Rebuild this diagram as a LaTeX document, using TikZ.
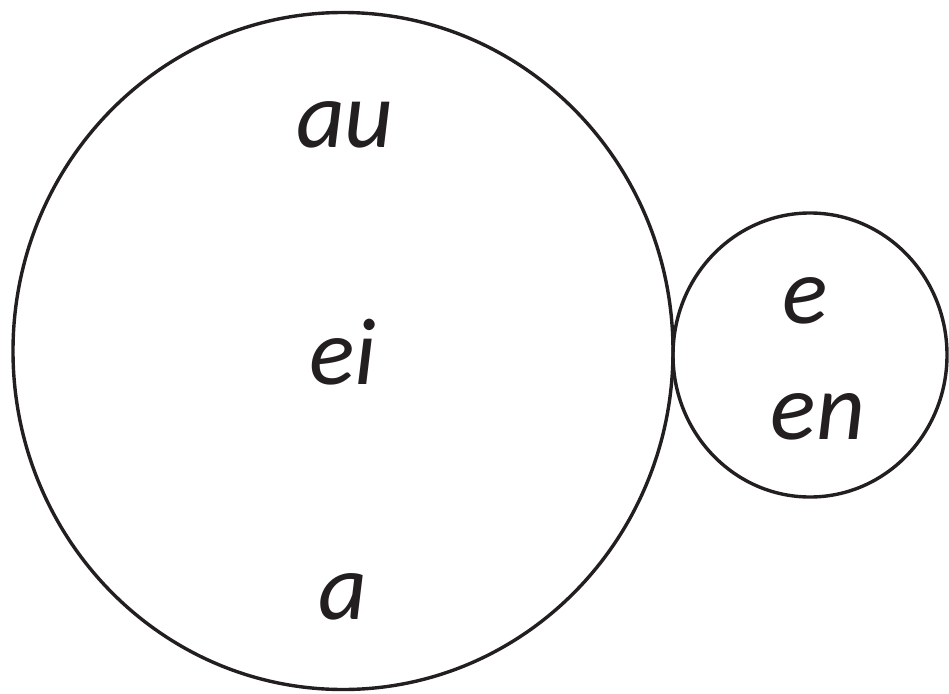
\documentclass[tikz,border=0pt]{standalone}
\usepackage{fontspec}
\setmainfont{Carlito}
\usetikzlibrary{shapes.geometric}
\definecolor{inkgray}{HTML}{231F20}

\begin{document}
\begin{tikzpicture}[
  x=1pt, y=-1pt,
  ring/.style={ellipse, draw=inkgray, line width=3.4pt, inner sep=0pt},
  sound/.style={anchor=base, inner sep=0pt, text=inkgray, font=\fontsize{95}{95}\selectfont\itshape}
]
  \useasboundingbox (0,0) rectangle (949,693);
  \node[ring, minimum width=660pt, minimum height=677pt] (big) at (343,351) {};
  \node[ring, minimum width=274pt, minimum height=284pt] (small) at (810,355) {};

  \node[sound] (au) at (345,147) {au};
  \node[sound] (ei) at (343,384) {ei};
  \node[sound] (a) at (343,619) {a};
  \node[sound] (e) at (805,323) {e};
  \node[sound] (en) at (818,439) {en};
\end{tikzpicture}
\end{document}
